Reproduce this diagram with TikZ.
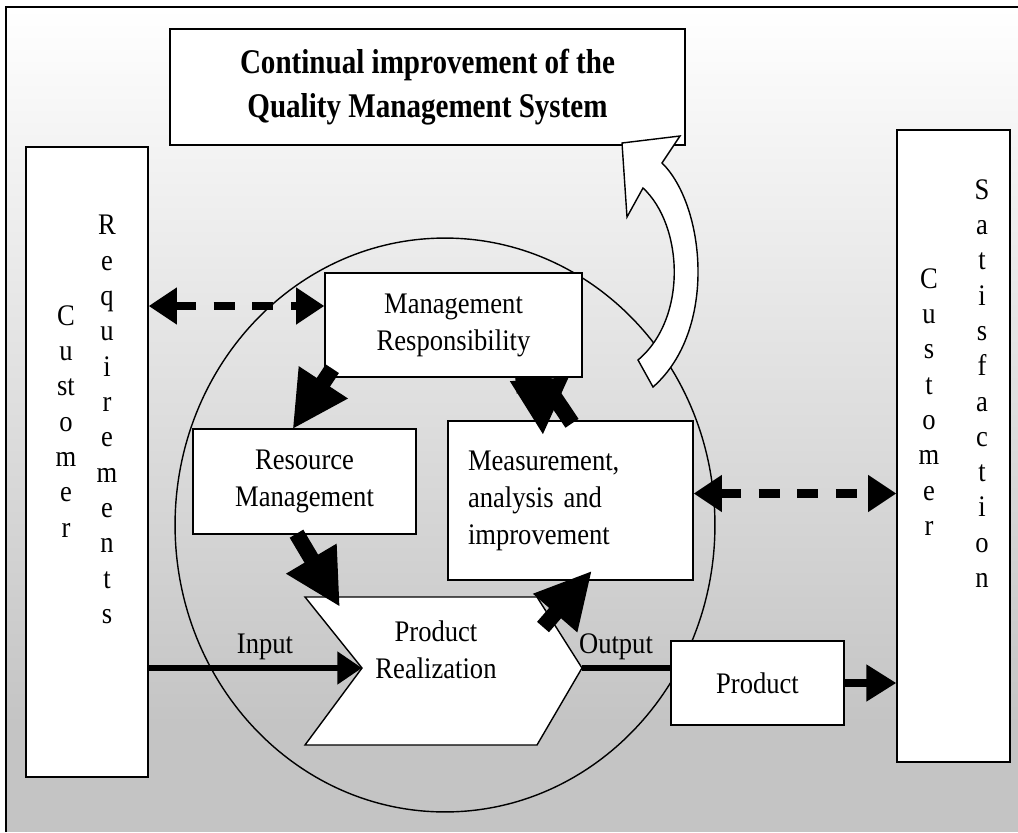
\documentclass[tikz,border=0pt]{standalone}
\usepackage{fontspec}
\setmainfont{Liberation Serif}[FakeStretch=0.89]
\newfontfamily\titlefont{Liberation Serif}[FakeStretch=0.84]
\usetikzlibrary{arrows.meta}
\usetikzlibrary{calc}
\definecolor{panelgray}{gray}{0.77}

\begin{document}
\begin{tikzpicture}[x=0.02cm,y=-0.02cm,
	box/.style={draw,line width=0.8pt,fill=white,inner sep=0pt},
	boxtext/.style={font=\fontsize{17}{21}\selectfont,align=center,inner sep=0pt},
	letters/.style={font=\fontsize{17}{20.1}\selectfont,align=center,inner sep=0pt,anchor=north},
	blockarrow/.style={line width=9pt,-{Triangle[length=32pt,width=31pt]}},
	dasharrow/.style={line width=5pt,dash pattern=on 12pt off 10pt,{Triangle[length=16pt,width=20pt]}-{Triangle[length=16pt,width=20pt]}},
	flowline/.style={line width=3.2pt}]
	\useasboundingbox (0,0) rectangle (1018,832);
	\shade[top color=white,bottom color=panelgray] (6,7) rectangle (1018,720);
	\fill[panelgray] (6,720) rectangle (1018,832);
	\draw[line width=1pt] (6,832) -- (6,7) -- (1018,7);
	\draw[line width=0.8pt] (445,525) ellipse [x radius=5.4cm,y radius=5.74cm];

	\node[box,font=\titlefont\bfseries\fontsize{19.7}{25}\selectfont,align=center,minimum width=10.3cm,minimum height=2.32cm] (ci) at (427.5,87) {Continual improvement of the\\Quality Management System};
	\node[box,minimum width=2.44cm,minimum height=12.6cm] (cr) at (87,462) {};
	\node[letters] (crc) at (66,305) {C\\u\\st\\o\\m\\e\\r};
	\node[letters] (crr) at (107,215) {R\\e\\q\\u\\i\\r\\e\\m\\e\\n\\t\\s};
	\node[box,minimum width=2.26cm,minimum height=12.64cm] (cs) at (953.5,446) {};
	\node[letters] (csc) at (929,268) {C\\u\\s\\t\\o\\m\\e\\r};
	\node[letters] (css) at (982,179) {S\\a\\t\\i\\s\\f\\a\\c\\t\\i\\o\\n};

	\node[box,boxtext,minimum width=4.46cm,minimum height=2.1cm] (rm) at (304.5,481.5) {Resource\\Management};
	\node[box,boxtext,align=left,text width=4.1cm,inner xsep=0.4cm,minimum height=3.18cm] (mai) at (570.5,500.5) {Measurement,\\analysis and\\improvement};
	\coordinate (prnw) at (305,597);
	\coordinate (prne) at (537,597);
	\coordinate (pre) at (582,668);
	\coordinate (prse) at (537,745);
	\coordinate (prsw) at (305,745);
	\coordinate (prw) at (362,668);
	\draw[line width=0.8pt,fill=white] (prnw) -- (prne) -- (pre) -- (prse) -- (prsw) -- (prw) -- cycle;
	\node[boxtext] (pr) at (436,650) {Product\\Realization};
	\node[box,boxtext,minimum width=3.46cm,minimum height=1.68cm] (pd) at (757.5,683) {Product};
	\node[box,boxtext,minimum width=5.14cm,minimum height=2.08cm] (mr) at (453.5,325) {Management\\Responsibility};

	\begin{scope}
		\clip (mr.south west) ++(-400,0) rectangle ++(1200,500);
		\draw[blockarrow] ([shift={(83.5,-32)}]mr.south) -- ([shift={(-27.5,15)}]mai.north);
		\draw[blockarrow] ([shift={(1.5,3)}]mai.north) -- ([shift={(56.5,-47)}]mr.south);
	\end{scope}
	\draw[blockarrow] ([shift={(8,-9)}]mr.south west) -- ([shift={(-12,1)}]rm.north);
	\draw[blockarrow] ([shift={(-8,-1)}]rm.south) -- ([shift={(35,10)}]prnw);
	\draw[blockarrow] ([shift={(6,30)}]prne) -- ([shift={(21.5,-10)}]mai.south);

	\draw[line width=0.8pt,fill=white] (622,143) -- (680,136) -- (662,163) .. controls (705,205) and (718,330) .. (653,387) -- (638,360) .. controls (688,318) and (683,225) .. (643,188) -- (627,217) -- cycle;

	\coordinate (mrw) at ([shift={(0,-19)}]mr.west);
	\coordinate (maie) at ([shift={(0,-7)}]mai.east);
	\draw[dasharrow] (cr.east |- mrw) -- (mrw);
	\draw[dasharrow] (maie) -- (cs.west |- maie);

	\draw[flowline,-{Triangle[length=14pt,width=18pt]}] (cr.east |- prw) -- (prw);
	\node[boxtext,anchor=base] (in) at (265,653) {Input};
	\draw[flowline] (pre) -- (pd.west |- pre);
	\node[boxtext,anchor=base] (out) at (616,653) {Output};
	\draw[line width=4pt,-{Triangle[length=17pt,width=20pt]}] (pd.east) -- (cs.west |- pd.east);
\end{tikzpicture}
\end{document}
